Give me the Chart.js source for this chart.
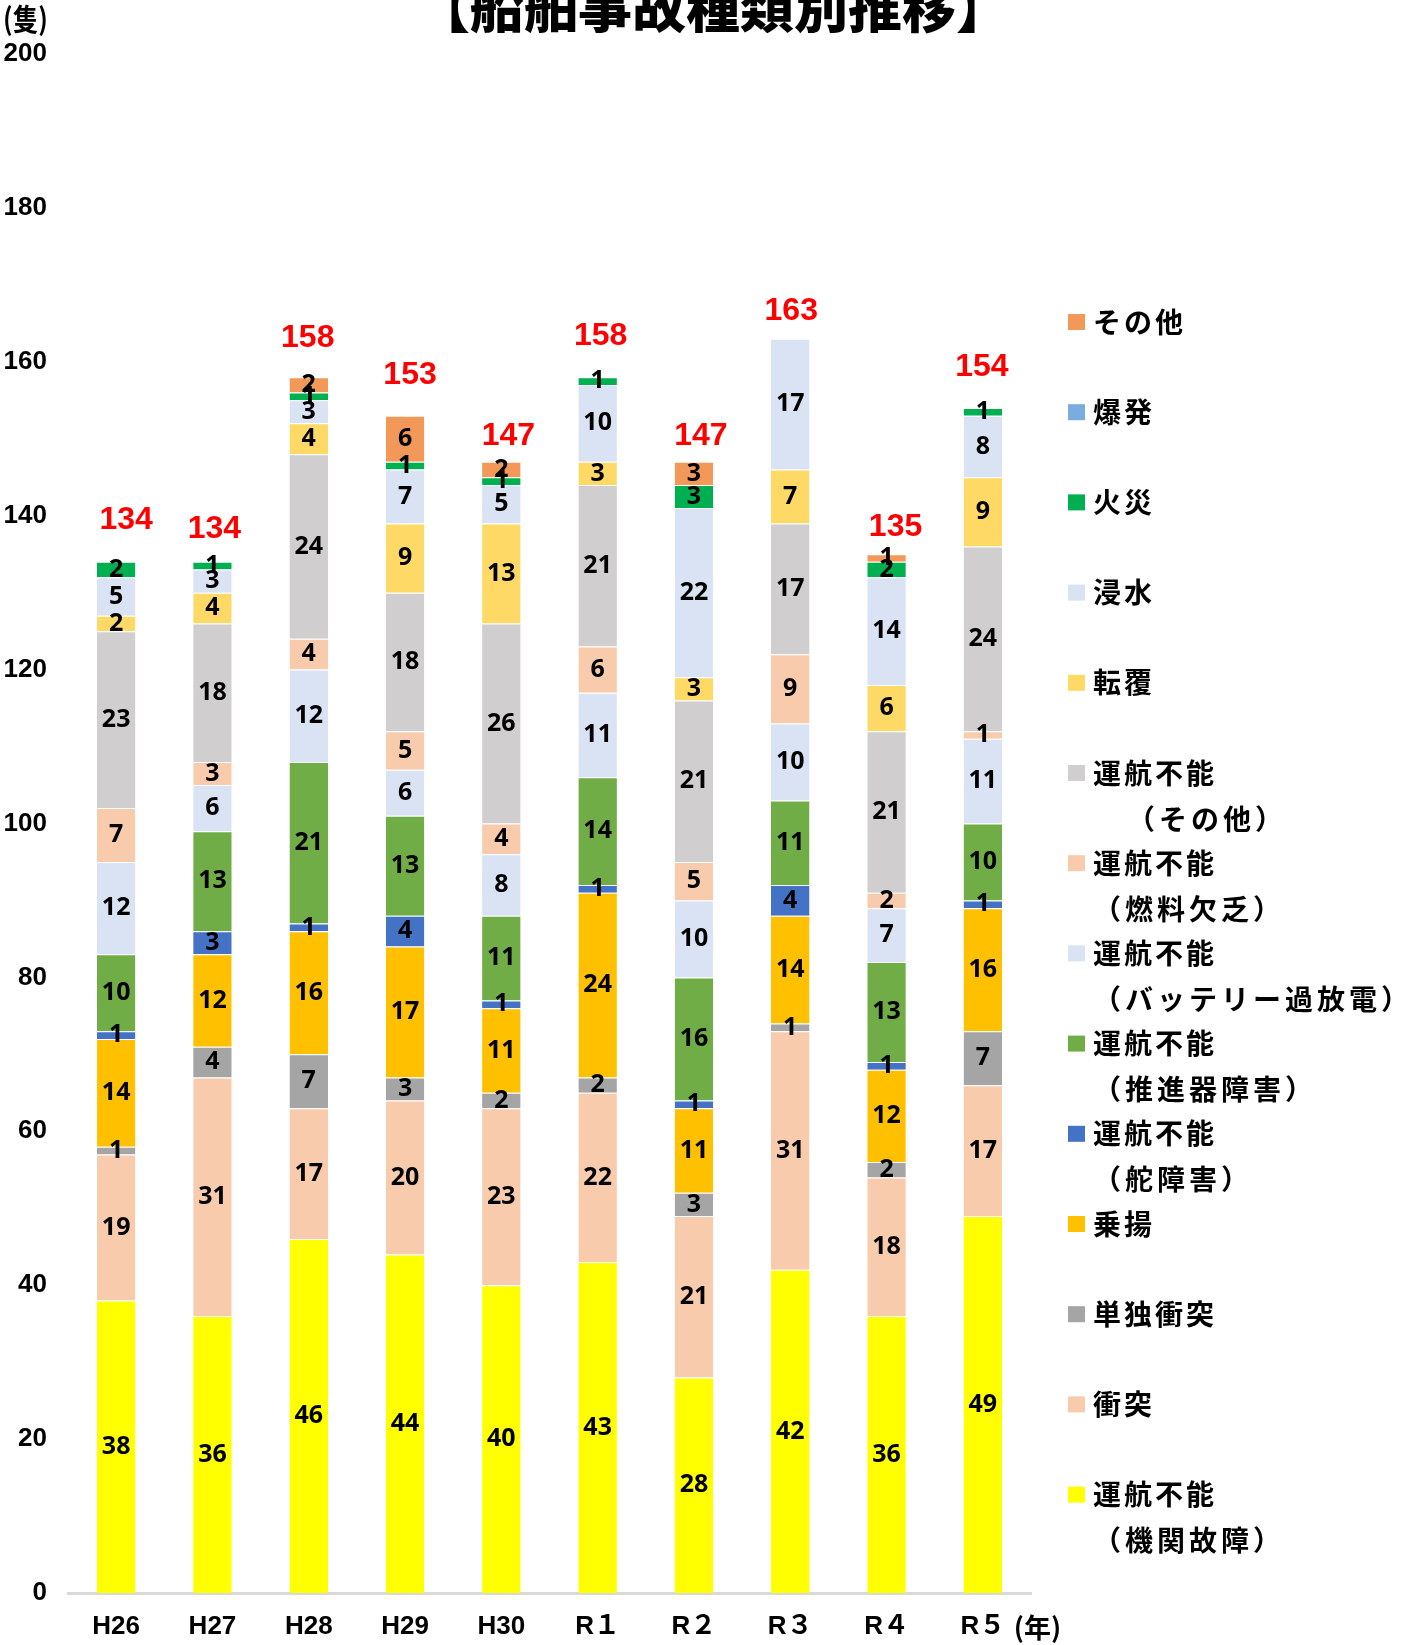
<!DOCTYPE html>
<html lang="ja">
<head>
<meta charset="utf-8">
<title>船舶事故種類別推移</title>
<script src="https://cdn.jsdelivr.net/npm/chart.js@4.4.1/dist/chart.umd.min.js"></script>
<style>
  html, body { margin: 0; padding: 0; background: #fff; }
  #wrap { position: relative; width: 1410px; height: 1645px; }
</style>
</head>
<body>
<div id="wrap"><canvas id="accidentChart"></canvas></div>
<script>
const years = ['H26', 'H27', 'H28', 'H29', 'H30', 'R１', 'R２', 'R３', 'R４', 'R５'];

// 積み上げ順（下から）
const engineTrouble   = [38, 36, 46, 44, 40, 43, 28, 42, 36, 49]; // 運航不能（機関故障）
const collision       = [19, 31, 17, 20, 23, 22, 21, 31, 18, 17]; // 衝突
const singleCollision = [1, 4, 7, 3, 2, 2, 3, 1, 2, 7];           // 単独衝突
const grounding       = [14, 12, 16, 17, 11, 24, 11, 14, 12, 16]; // 乗揚
const rudder          = [1, 3, 1, 4, 1, 1, 1, 4, 1, 1];           // 運航不能（舵障害）
const propeller       = [10, 13, 21, 13, 11, 14, 16, 11, 13, 10]; // 運航不能（推進器障害）
const battery         = [12, 6, 12, 6, 8, 11, 10, 10, 7, 11];     // 運航不能（バッテリー過放電）
const fuel            = [7, 3, 4, 5, 4, 6, 5, 9, 2, 1];           // 運航不能（燃料欠乏）
const otherDisabled   = [23, 18, 24, 18, 26, 21, 21, 17, 21, 24]; // 運航不能（その他）
const capsize         = [2, 4, 4, 9, 13, 3, 3, 7, 6, 9];          // 転覆
const flooding        = [5, 3, 3, 7, 5, 10, 22, 17, 14, 8];       // 浸水
const fire            = [2, 1, 1, 1, 1, 1, 3, 0, 2, 1];           // 火災
const explosion       = [0, 0, 0, 0, 0, 0, 0, 0, 0, 0];           // 爆発
const others          = [0, 0, 2, 6, 2, 0, 3, 0, 1, 0];           // その他

const seriesNames = [
  '運航不能（機関故障）', '衝突', '単独衝突', '乗揚', '運航不能（舵障害）',
  '運航不能（推進器障害）', '運航不能（バッテリー過放電）', '運航不能（燃料欠乏）',
  '運航不能（その他）', '転覆', '浸水', '火災', '爆発', 'その他'
];
const seriesValues = [
  engineTrouble, collision, singleCollision, grounding, rudder, propeller,
  battery, fuel, otherDisabled, capsize, flooding, fire, explosion, others
];
const seriesColors = [
  '#ffff00', '#f8cbad', '#a5a5a5', '#ffc000', '#4472c4', '#70ad47',
  '#dae3f3', '#f8cbad', '#d0cece', '#ffd966', '#dae3f3', '#00b050', '#7aacdd', '#f2995a'
];

// 合計ラベルの手置き位置（棒の中心からのずれ / 棒の上端からの高さ）
const totalNudgeX = [10, 2, -1, 5, 7, 3, 7, 1, 9, -1];
const totalLift   = [42, 33, 39, 40, 26, 41, 26, 28, 27, 41];

const FONT_NUM = "'Liberation Sans', Arial, sans-serif";
const FONT_SEG = "'Noto Sans', 'DejaVu Sans', sans-serif";
const FONT_JP = "'Noto Sans CJK JP', sans-serif";

// 各区分の件数と年ごとの合計
const barLabels = {
  id: 'barLabels',
  afterDatasetsDraw(chart) {
    const ctx = chart.ctx;
    ctx.save();
    ctx.textAlign = 'center';
    ctx.textBaseline = 'middle';
    ctx.font = 'bold 25px ' + FONT_SEG;
    ctx.fillStyle = '#000';
    chart.data.datasets.forEach((ds, i) => {
      chart.getDatasetMeta(i).data.forEach((bar, j) => {
        const v = ds.data[j];
        if (!v) return;
        ctx.fillText(String(v), bar.x, (bar.y + bar.base) / 2);
      });
    });
    ctx.font = 'bold 32px ' + FONT_NUM;
    ctx.fillStyle = '#ff0000';
    years.forEach((_, j) => {
      const total = seriesValues.reduce((s, arr) => s + arr[j], 0);
      const x = chart.scales.x.getPixelForValue(j) + totalNudgeX[j];
      ctx.fillText(String(total), x, chart.scales.y.getPixelForValue(total) - totalLift[j]);
    });
    ctx.restore();
  }
};

// タイトル・単位・凡例
const decorations = {
  id: 'decorations',
  afterDraw(chart) {
    const ctx = chart.ctx;
    ctx.save();
    ctx.fillStyle = '#000';
    ctx.textBaseline = 'middle';

    ctx.textAlign = 'center';
    ctx.font = '900 54px ' + FONT_JP;
    ctx.fillText('【船舶事故種類別推移】', 713, 7);

    ctx.textAlign = 'left';
    ctx.font = 'bold 30px ' + FONT_JP;
    ctx.save();
    ctx.scale(0.85, 1);
    ctx.fillText('(隻)', 3 / 0.85, 19);
    ctx.restore();
    ctx.font = 'bold 27px ' + FONT_JP;
    ctx.fillText('(年)', chart.scales.x.getPixelForValue(years.length - 1) + 31, 1628);

    // 凡例：積み上げの逆順で上から
    const order = seriesNames.map((_, i) => i).reverse();
    order.forEach((idx, k) => {
      const y = 322 + 90.2 * k;
      ctx.fillStyle = seriesColors[idx];
      ctx.fillRect(1068, y - 8, 17, 16);
      ctx.fillStyle = '#000';
      const name = seriesNames[idx];
      const cut = name.indexOf('（');
      ctx.font = 'bold 28px ' + FONT_JP;
      ctx.letterSpacing = '3px';
      ctx.fillText(cut > 0 ? name.slice(0, cut) : name, 1093, y);
      if (cut > 0) {
        const sub = name.slice(cut);
        ctx.letterSpacing = '4px';
        ctx.fillText(sub, sub === '（その他）' ? 1127 : 1093, y + 46);
      }
      ctx.letterSpacing = '0px';
    });
    ctx.restore();
  }
};

const accidentChart = new Chart(document.getElementById('accidentChart'), {
  type: 'bar',
  data: {
    labels: years,
    datasets: seriesNames.map((name, i) => ({
      label: name,
      data: seriesValues[i],
      backgroundColor: seriesColors[i],
      borderColor: '#ffffff',
      borderWidth: { top: 1, right: 0, bottom: 0, left: 0 },
      borderSkipped: false,
      barPercentage: 0.4,
      categoryPercentage: 1
    }))
  },
  options: {
    responsive: true,
    maintainAspectRatio: false,
    animation: false,
    layout: { padding: { top: 54, right: 379, bottom: 0, left: 0 } },
    plugins: {
      legend: { display: false },
      title: { display: false },
      tooltip: { enabled: false }
    },
    scales: {
      x: {
        stacked: true,
        grid: { display: false, drawTicks: false },
        border: { display: true, color: '#d9d9d9', width: 3 },
        ticks: {
          color: '#000',
          padding: 18,
          maxRotation: 0,
          autoSkip: false,
          font: { family: FONT_NUM + ", 'Noto Sans CJK JP'", size: 26, weight: 'bold' }
        },
        afterFit(scale) { scale.height = 52; }
      },
      y: {
        stacked: true,
        min: 0,
        max: 200,
        grid: { display: false, drawTicks: false },
        border: { display: false },
        ticks: {
          stepSize: 20,
          color: '#000',
          padding: 21,
          font: { family: FONT_NUM, size: 26, weight: 'bold' }
        },
        afterFit(scale) { scale.width = 68; }
      }
    }
  },
  plugins: [barLabels, decorations]
});
</script>
</body>
</html>
